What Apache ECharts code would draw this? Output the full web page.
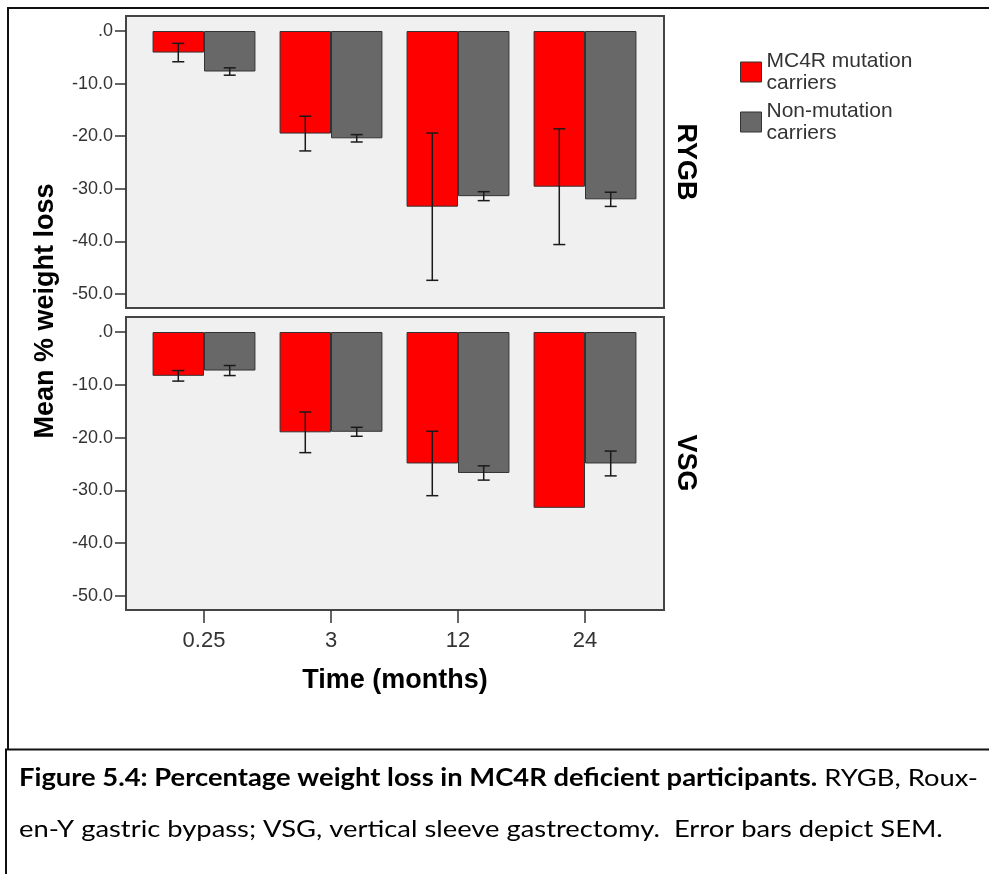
<!DOCTYPE html>
<html><head><meta charset="utf-8">
<script src="https://cdn.jsdelivr.net/npm/echarts@6/dist/echarts.min.js"></script>
<style>html,body{margin:0;padding:0;background:#fff}#c{width:989px;height:874px}</style>
</head><body><div id="c"></div>
<script>
// ---- data ----
const categories = ['0.25', '3', '12', '24'];
const yTicks = [0, -10, -20, -30, -40, -50];
const seriesNames = ['MC4R mutation carriers', 'Non-mutation carriers'];
const panelNames = ['RYGB', 'VSG'];
const rygbCarriers    = [-4.1, -19.5, -33.4, -29.6];
const rygbCarriersSem = [1.75, 3.3, 14.0, 11.0];
const rygbNon         = [-7.7, -20.4, -31.4, -32.0];
const rygbNonSem      = [0.7, 0.7, 0.85, 1.35];
const vsgCarriers     = [-8.3, -19.0, -24.9, -33.3];
const vsgCarriersSem  = [1.0, 3.85, 6.1, null];
const vsgNon          = [-7.3, -18.9, -26.7, -24.9];
const vsgNonSem       = [0.95, 0.85, 1.35, 2.35];

const FONT = '"Liberation Sans", Arial, Helvetica, sans-serif';
const CAP_FONT = 'Lato, "Open Sans", sans-serif';
const BAR_FRAC = 0.405;
const RED = '#FF0000', GRAY = '#686868';
const CAP_SCALE = 1.14;

const chart = echarts.init(document.getElementById('c'), null, {renderer: 'canvas'});

function errorSeries(axisIdx, means, sems, side) {
  const data = [];
  means.forEach((m, i) => { if (sems[i] != null) data.push([i, m - sems[i], m + sems[i]]); });
  return {
    type: 'custom', name: 'err' + axisIdx + side, xAxisIndex: axisIdx, yAxisIndex: axisIdx,
    z: 5, silent: true, data: data, encode: {x: 0, y: [1, 2]},
    renderItem(params, api) {
      const bw = api.size([1, 0])[0];
      const off = side * bw * BAR_FRAC / 2;
      const lo = api.coord([api.value(0), api.value(1)]);
      const hi = api.coord([api.value(0), api.value(2)]);
      const x = lo[0] + off, cap = 6;
      const st = {stroke: '#1a1a1a', lineWidth: 1.5};
      return {type: 'group', children: [
        {type: 'line', shape: {x1: x, y1: lo[1], x2: x, y2: hi[1]}, style: st},
        {type: 'line', shape: {x1: x - cap, y1: lo[1], x2: x + cap, y2: lo[1]}, style: st},
        {type: 'line', shape: {x1: x - cap, y1: hi[1], x2: x + cap, y2: hi[1]}, style: st}
      ]};
    }
  };
}

function barSeries(axisIdx, name, values, color) {
  return {
    type: 'bar', name: name, xAxisIndex: axisIdx, yAxisIndex: axisIdx,
    data: values, barWidth: (BAR_FRAC * 100) + '%', barGap: '0%',
    itemStyle: {color: color, borderColor: '#333', borderWidth: 1},
    silent: true
  };
}

const yAxisCommon = {
  type: 'value', min: yTicks[yTicks.length - 1], max: yTicks[0], interval: 10,
  offset: 14.5,
  axisLine: {show: false},
  axisTick: {show: true, length: 11, lineStyle: {color: '#333', width: 1.5}},
  axisLabel: {fontFamily: FONT, fontSize: 18, color: '#333', margin: 13,
    formatter: v => v === 0 ? '.0' : v.toFixed(1)},
  splitLine: {show: false}
};

const option = {
  animation: false,
  backgroundColor: '#fff',
  grid: [
    {left: 126, top: 16, width: 538, height: 292, show: true, backgroundColor: '#F0F0F0', borderColor: '#444', borderWidth: 2},
    {left: 126, top: 317, width: 538, height: 293, show: true, backgroundColor: '#F0F0F0', borderColor: '#444', borderWidth: 2},
    {left: 140.5, top: 31, width: 508, height: 263, show: false},
    {left: 140.5, top: 332, width: 508, height: 264, show: false}
  ],
  xAxis: [
    {gridIndex: 0, type: 'value', show: false},
    {gridIndex: 1, type: 'value', show: false},
    {gridIndex: 2, type: 'category', data: categories, show: false},
    {gridIndex: 3, type: 'category', data: categories, position: 'bottom', offset: 14,
      axisLine: {show: false, onZero: false},
      axisTick: {show: true, alignWithLabel: true, length: 13, lineStyle: {color: '#333', width: 1.5}},
      axisLabel: {fontFamily: FONT, fontSize: 22, color: '#333', margin: 20}
    }
  ],
  yAxis: [
    {gridIndex: 0, type: 'value', show: false},
    {gridIndex: 1, type: 'value', show: false},
    Object.assign({gridIndex: 2}, yAxisCommon),
    Object.assign({gridIndex: 3}, yAxisCommon)
  ],
  legend: {
    orient: 'vertical', left: 740, top: 50, padding: 0,
    itemWidth: 21, itemHeight: 20, itemGap: 6, icon: 'rect', selectedMode: false,
    data: seriesNames,
    formatter: n => n === seriesNames[0] ? 'MC4R mutation\ncarriers' : 'Non-mutation\ncarriers',
    itemStyle: {borderColor: '#333', borderWidth: 1},
    textStyle: {fontFamily: FONT, fontSize: 21, color: '#333', lineHeight: 22, padding: 0}
  },
  series: [
    barSeries(2, seriesNames[0], rygbCarriers, RED),
    barSeries(2, seriesNames[1], rygbNon, GRAY),
    barSeries(3, seriesNames[0], vsgCarriers, RED),
    barSeries(3, seriesNames[1], vsgNon, GRAY),
    errorSeries(2, rygbCarriers, rygbCarriersSem, -1),
    errorSeries(2, rygbNon, rygbNonSem, 1),
    errorSeries(3, vsgCarriers, vsgCarriersSem, -1),
    errorSeries(3, vsgNon, vsgNonSem, 1)
  ],
  graphic: [
    {type: 'line', shape: {x1: 7, y1: 8, x2: 989, y2: 8}, style: {stroke: '#111', lineWidth: 2}},
    {type: 'line', shape: {x1: 8, y1: 7, x2: 8, y2: 750}, style: {stroke: '#111', lineWidth: 2}},
    {type: 'line', shape: {x1: 6, y1: 749, x2: 6, y2: 874}, style: {stroke: '#111', lineWidth: 2}},
    {type: 'line', shape: {x1: 5, y1: 749.5, x2: 989, y2: 749.5}, style: {stroke: '#111', lineWidth: 2}},
    {type: 'text', x: 46, y: 311, rotation: Math.PI / 2,
      style: {text: 'Mean % weight loss', font: 'bold 27px ' + FONT, fill: '#000', align: 'center', verticalAlign: 'middle'}},
    {type: 'text', x: 395, y: 681,
      style: {text: 'Time (months)', font: 'bold 27px ' + FONT, fill: '#000', align: 'center', verticalAlign: 'middle'}},
    {type: 'text', x: 685, y: 162, rotation: -Math.PI / 2,
      style: {text: panelNames[0], font: 'bold 27px ' + FONT, fill: '#000', align: 'center', verticalAlign: 'middle'}},
    {type: 'text', x: 685, y: 463, rotation: -Math.PI / 2,
      style: {text: panelNames[1], font: 'bold 27px ' + FONT, fill: '#000', align: 'center', verticalAlign: 'middle'}},
    {type: 'text', x: 19, y: 778, scaleX: CAP_SCALE,
      style: {text: '{b|Figure 5.4: Percentage weight loss in MC4R deficient participants.} RYGB, Roux-',
        font: '24px ' + CAP_FONT, fill: '#000', align: 'left', verticalAlign: 'middle',
        rich: {b: {fontFamily: CAP_FONT, fontSize: 24, fontWeight: 'bold', fill: '#000'}}}},
    {type: 'text', x: 19, y: 829, scaleX: CAP_SCALE,
      style: {text: 'en-Y gastric bypass; VSG, vertical sleeve gastrectomy.  Error bars depict SEM.',
        font: '24px ' + CAP_FONT, fill: '#000', align: 'left', verticalAlign: 'middle'}}
  ]
};
chart.setOption(option);
</script>
</body></html>
